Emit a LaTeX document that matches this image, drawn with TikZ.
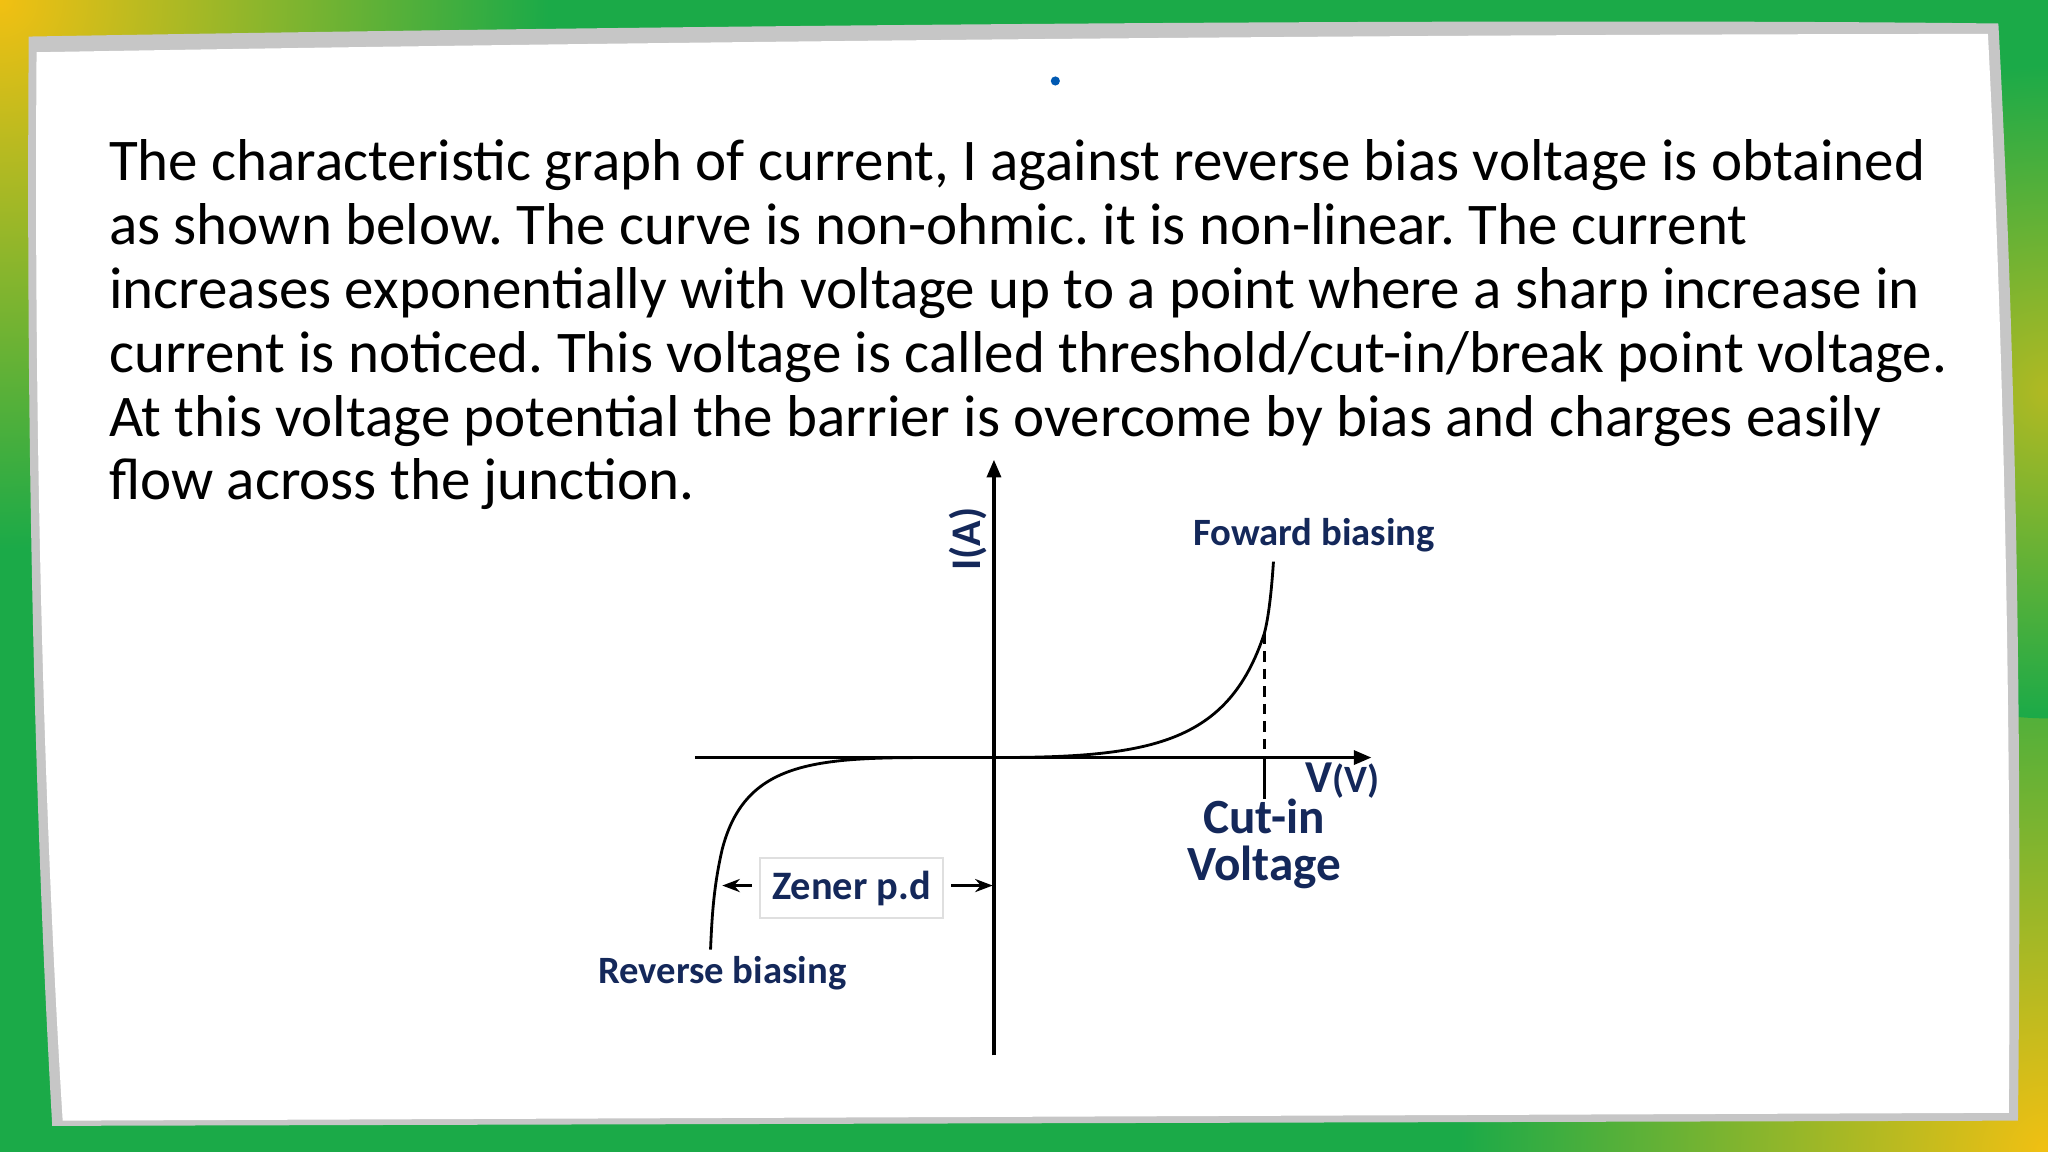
\documentclass[tikz,border=0pt]{standalone}
\usepackage{fontspec}
\setmainfont{Carlito}
\frenchspacing
\usetikzlibrary{arrows.meta}
\definecolor{navy}{HTML}{14285A}
\definecolor{grn}{HTML}{1BAA48}
\definecolor{yel}{HTML}{F2C012}
\begin{document}
\begin{tikzpicture}[x=0.013061cm,y=-0.013061cm,
  lab/.style={text=navy,font=\bfseries\fontsize{11}{13}\selectfont,inner sep=1pt},
  ax/.style={line width=0.9pt,-{Triangle[length=5pt,width=4pt]}},
  crv/.style={line width=0.8pt}]
\useasboundingbox (0,0) rectangle (1568,882);
% border
\fill[grn] (0,0) rectangle (1568,882);
\shade[inner color=yel,outer color=grn] (0,0) circle (420);
\shade[inner color=yel,outer color=grn] (1568,882) circle (450);
\shade[inner color=yel!70!grn,outer color=grn] (1568,300) circle (250);
% panel shadow
\fill[gray!45] (22,28) .. controls (600,18) and (1200,14) .. (1530,18)
  .. controls (1545,300) and (1548,600) .. (1545,858)
  -- (40,862) .. controls (25,600) and (20,300) .. cycle;
\fill[white] (28,40) .. controls (600,30) and (1200,26) .. (1522,26)
  .. controls (1536,300) and (1540,600) .. (1538,852)
  -- (48,858) .. controls (32,600) and (26,300) .. cycle;
\fill[blue!50!cyan!70!black] (808,62) circle (3.5);
% paragraph
\node[anchor=north west,align=left,inner sep=0,font=\fontsize{16.8}{18.2}\selectfont] (para) at (83,106)
{The characteristic graph of current, I against reverse bias voltage is obtained\\
as shown below. The curve is non-ohmic. it is non-linear. The current\\
increases exponentially with voltage up to a point where a sharp increase in\\
current is noticed. This voltage is called threshold/cut-in/break point voltage.\\
At this voltage potential the barrier is overcome by bias and charges easily\\
flow across the junction.};
% axes
\coordinate (o) at (761,580);
\coordinate (yb) at (761,808);
\coordinate (yt) at (761,352);
\coordinate (xl) at (532,580);
\coordinate (xr) at (1050,580);
\draw[ax] (yb) -- (yt);
\draw[ax] (xl) -- (xr);
% forward curve
\coordinate (ci) at (968,485);
\coordinate (ft) at (975,430);
\coordinate (cib) at (968,580);
\coordinate (cit) at (968,612);
\draw[crv] (o) .. controls (880,580) and (940,570) .. (ci) .. controls (972,470) and (974,445) .. (ft);
\draw[crv,dashed,dash pattern=on 3pt off 2pt] (ci) -- (cib);
\draw[crv] (cib) -- (cit);
% reverse curve
\coordinate (rs) at (710,580);
\coordinate (re) at (544,727);
\draw[crv] (rs) .. controls (620,580) and (570,585) .. (553,650) .. controls (546,680) and (545,705) .. (re);
% zener
\node[draw=gray!25,line width=0.6pt,text=navy,font=\bfseries\fontsize{11.5}{13}\selectfont,minimum width=1.83cm,minimum height=0.6cm,inner sep=1pt] (zen) at (652,680) {Zener p.d};
\coordinate (zl) at (553,678);
\coordinate (zr) at (760,678);
\draw[line width=0.7pt,-{Stealth[length=5pt]}] ([xshift=-2pt]zen.west |- zl) -- (zl);
\draw[line width=0.7pt,-{Stealth[length=5pt]}] ([xshift=2pt]zen.east |- zr) -- (zr);
% labels
\node[lab] (fb) at (1006,410) {Foward biasing};
\node[lab,rotate=90,font=\bfseries\fontsize{12}{14}\selectfont] (ia) at (741,413) {I(A)};
\node[lab,font=\bfseries\fontsize{13}{15}\selectfont] (vv) at (1028,598) {V{\fontsize{11}{13}\selectfont(V)}};
\node[lab,align=center,font=\bfseries\fontsize{14}{13.5}\selectfont] (cv) at (968,646) {Cut-in\\Voltage};
\node[lab] (rb) at (553,745) {Reverse biasing};
\end{tikzpicture}
\end{document}
